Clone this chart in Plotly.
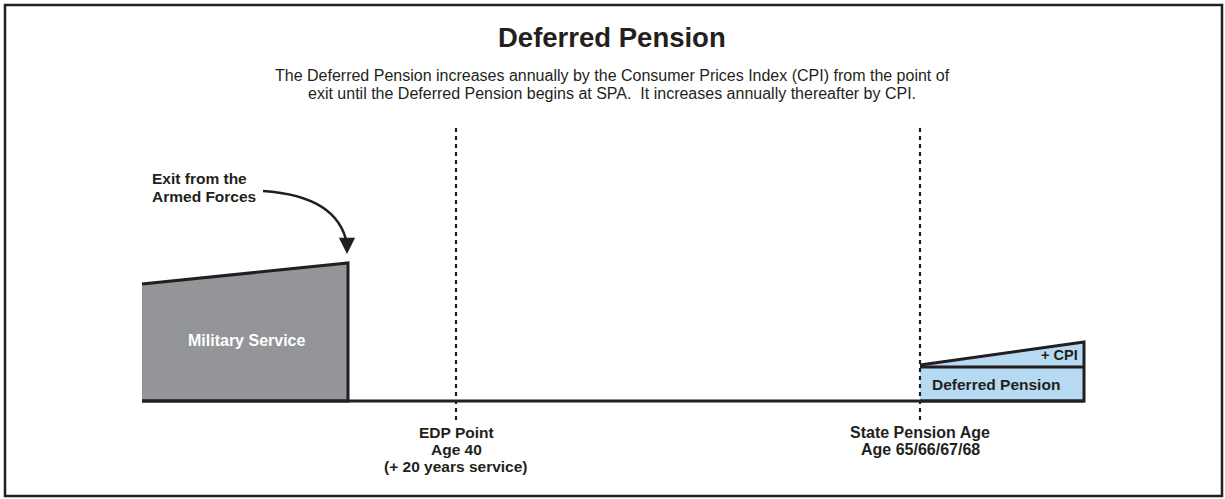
import plotly.graph_objects as go

# diagram positions (in figure pixel units)
military_x = [142, 348, 348, 142]
military_y = [401, 401, 263, 284]

pension_x = [920, 1084, 1084, 920]
pension_y = [401, 401, 342, 365]
cpi_split_x = [920, 1084]
cpi_split_y = [367, 367]

baseline_x = [142, 1084]
baseline_y = [401, 401]

edp_x = [456, 456]
spa_x = [920, 920]
marker_y = [128, 420]

title = "Deferred Pension"
subtitle = ["The Deferred Pension increases annually by the Consumer Prices Index (CPI) from the point of",
            "exit until the Deferred Pension begins at SPA.  It increases annually thereafter by CPI."]
exit_label = ["Exit from the", "Armed Forces"]
edp_label = ["EDP Point", "Age 40", "(+ 20 years service)"]
spa_label = ["State Pension Age", "Age 65/66/67/68"]

INK = "#231f20"
GREY = "#939598"
BLUE = "#b5daf1"
FONT = "Liberation Sans, Arial, sans-serif"

fig = go.Figure()

fig.add_trace(go.Scatter(x=military_x, y=military_y, fill="toself", fillcolor=GREY,
                         mode="lines", line=dict(color=INK, width=3), hoverinfo="skip"))
fig.add_trace(go.Scatter(x=pension_x, y=pension_y, fill="toself", fillcolor=BLUE,
                         mode="lines", line=dict(color=INK, width=3), hoverinfo="skip"))
fig.add_trace(go.Scatter(x=cpi_split_x, y=cpi_split_y, mode="lines",
                         line=dict(color=INK, width=3), hoverinfo="skip"))
fig.add_trace(go.Scatter(x=baseline_x, y=baseline_y, mode="lines",
                         line=dict(color=INK, width=3), hoverinfo="skip"))
for xs in (edp_x, spa_x):
    fig.add_trace(go.Scatter(x=xs, y=marker_y, mode="lines",
                             line=dict(color=INK, width=2.2, dash="4px,4px"), hoverinfo="skip"))

# curved arrow "Exit from the Armed Forces"
fig.add_shape(type="path", path="M 263,191 Q 338,196 347,244",
              line=dict(color=INK, width=2.5), xref="x", yref="y")
fig.add_annotation(x=347, y=254, ax=347, ay=240, xref="x", yref="y", axref="x", ayref="y",
                   text="", showarrow=True, arrowhead=2, arrowsize=1.3, arrowwidth=2.5,
                   arrowcolor=INK)

# outer frame
fig.add_shape(type="rect", x0=5, x1=1222, y0=5, y1=496, xref="x", yref="y",
              line=dict(color=INK, width=2.5))


def txt(x, y, lines, size=15.5, color=INK, bold=True, anchor="center", step=17):
    if isinstance(lines, str):
        lines = [lines]
    for i, s in enumerate(lines):
        fig.add_annotation(x=x, y=y + i * step, text=f"<b>{s}</b>" if bold else s,
                           showarrow=False, xanchor=anchor, yanchor="middle",
                           font=dict(family=FONT, size=size, color=color))


txt(612, 37, title, size=27.5)
txt(612, 75, subtitle, size=16, bold=False, step=18)
txt(150, 178, exit_label, size=15.5, anchor="left", step=18)
txt(247, 340, "Military Service", size=16, color="white")
txt(1080, 355, "+ CPI", size=14.5, anchor="right")
txt(930, 384, "Deferred Pension", size=15.5, anchor="left")
txt(456, 432, edp_label)
txt(920, 432, spa_label, size=16)

fig.update_layout(
    width=1225, height=499, margin=dict(l=0, r=0, t=0, b=0),
    plot_bgcolor="white", paper_bgcolor="white", showlegend=False,
    xaxis=dict(range=[0, 1225], visible=False, fixedrange=True),
    yaxis=dict(range=[499, 0], visible=False, fixedrange=True),
    font=dict(family=FONT, color=INK),
)

# drop the default body margin so the figure sits at the window's corner
fig.write_html("out.html", config={"displayModeBar": False},
               post_script="document.body.style.margin='0';document.body.style.overflow='hidden';")
